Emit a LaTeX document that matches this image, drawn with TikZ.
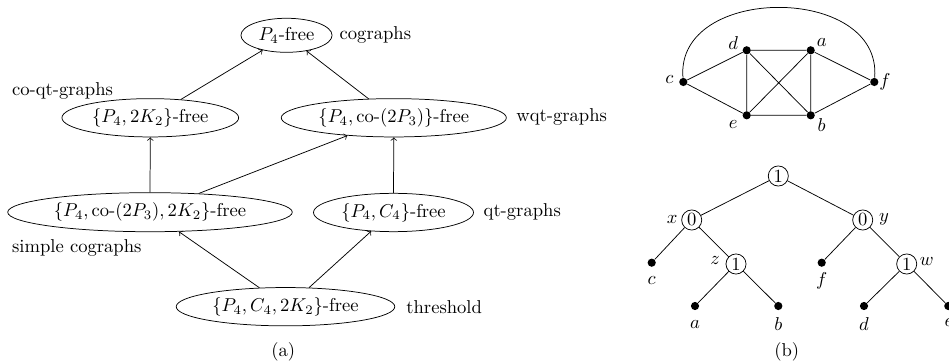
\documentclass[tikz,border=0pt]{standalone}
\usetikzlibrary{shapes.geometric}
\begin{document}
\begin{tikzpicture}[x={(0.5376pt,0)}, y={(0,-0.5376pt)},
 ell/.style={draw, ellipse, inner sep=0pt, minimum width=#1, minimum height=20.6pt},
 lab/.style={anchor=west, inner sep=0pt},
 gdot/.style={circle, fill, inner sep=0pt, minimum size=4.4pt},
 tnode/.style={circle, draw, inner sep=0pt, minimum size=10.8pt},
 vl/.style={inner sep=0pt}]
\useasboundingbox (0,0) rectangle (949,364);
% ---------- panel (a)
\node[ell=49pt, minimum height=18.3pt] (P) at (286.5,35.3) {\makebox[0pt]{$P_4$-free}};
\node[ell=95pt] (A) at (150.3,117.8) {\makebox[0pt]{$\{P_4,2K_2\}$-free}};
\node[ell=121pt] (B) at (393.8,117.8) {\makebox[0pt]{$\{P_4,\mbox{co-}(2P_3)\}$-free}};
\node[ell=153pt, minimum height=21pt] (S) at (150,212.2) {\makebox[0pt]{$\{P_4,\mbox{co-}(2P_3),2K_2\}$-free}};
\node[ell=86pt] (Q) at (393.5,212.5) {\makebox[0pt]{$\{P_4,C_4\}$-free}};
\node[ell=117.5pt] (T) at (285.5,306.7) {\makebox[0pt]{$\{P_4,C_4,2K_2\}$-free}};

\node[lab] (lP) at (339.3,35) {cographs};
\node[lab] (lA) at (11.7,91) {co-qt-graphs};
\node[lab] (lB) at (516,117) {wqt-graphs};
\node[lab] (lS) at (11.7,248.3) {simple cographs};
\node[lab] (lQ) at (483.3,211.7) {qt-graphs};
\node[lab] (lT) at (406,306.7) {threshold};
\node[vl] (capa) at (283.3,352) {(a)};

\draw[->] (A.31) -- (P.212);
\draw[->] (B.143.6) -- (P.322.5);
\draw[->] (S.north) -- (A.south);
\draw[->] (S.21.5) -- (B.201.2);
\draw[->] (Q.north) -- (B.south);
\draw[->] (T.144.5) -- (S.326.4);
\draw[->] (T.39.2) -- (Q.220.7);

% ---------- panel (b): graph
\node[gdot] (c) at (683.3,82) {};
\node[gdot] (d) at (746.7,50.3) {};
\node[gdot] (a) at (810.7,50.3) {};
\node[gdot] (e) at (746.7,115.3) {};
\node[gdot] (b) at (810.7,115.3) {};
\node[gdot] (f) at (874.3,82) {};
\draw (c) -- (d) (c) -- (e) (d) -- (a) (d) -- (e) (d) -- (b)
      (a) -- (e) (a) -- (b) (a) -- (f) (e) -- (b) (b) -- (f);
\draw (c) .. controls +(-8,-98) and +(8,-98) .. (f);
\node[vl] (lc) at (669.3,79.8) {$c$};
\node[vl] (ld) at (733.3,43.3) {$d$};
\node[vl] (la) at (821.7,43) {$a$};
\node[vl] (le) at (733.3,124) {$e$};
\node[vl] (lb) at (821.7,125.3) {$b$};
\node[vl] (lf) at (885,81.7) {$f$};

% ---------- panel (b): tree
\node[tnode] (r) at (778.3,176) {1};
\node[tnode] (tx) at (691.7,220) {0};
\node[tnode] (ty) at (862.7,220) {0};
\node[tnode] (tz) at (736,264) {1};
\node[tnode] (tw) at (906.7,264) {1};
\node[gdot] (tc) at (651.7,262.7) {};
\node[gdot] (tf) at (821.7,262.7) {};
\node[gdot] (ta) at (695,306) {};
\node[gdot] (tb) at (778.3,306) {};
\node[gdot] (td) at (864,306) {};
\node[gdot] (te) at (948.3,306) {};
\draw (r) -- (tx) (r) -- (ty) (tx) -- (tc) (tx) -- (tz) (tz) -- (ta) (tz) -- (tb)
      (ty) -- (tf) (ty) -- (tw) (tw) -- (td) (tw) -- (te);
\node[vl] (lx) at (672.3,219.5) {$x$};
\node[vl] (ly) at (884,219) {$y$};
\node[vl] (lz) at (715,260) {$z$};
\node[vl] (lw) at (926.7,261.7) {$w$};
\node[vl] (ltc) at (651.7,280) {$c$};
\node[vl] (ltf) at (821.7,280.7) {$f$};
\node[vl] (lta) at (695,324) {$a$};
\node[vl] (ltb) at (778.3,324) {$b$};
\node[vl] (ltd) at (864,324) {$d$};
\node[vl] (lte) at (949,322) {$e$};
\node[vl] (capb) at (786.7,352) {(b)};
\end{tikzpicture}
\end{document}
